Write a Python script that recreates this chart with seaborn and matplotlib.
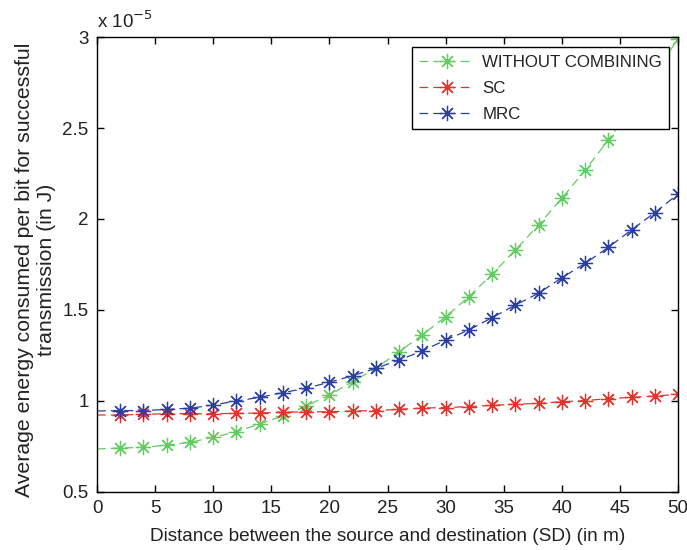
import matplotlib
matplotlib.use("Agg")
import matplotlib.pyplot as plt
import seaborn as sns
import numpy as np
import pandas as pd

# Distance between source and destination (m)
distance = [0, 2, 4, 6, 8, 10, 12, 14, 16, 18, 20, 22, 24, 26, 28, 30,
            32, 34, 36, 38, 40, 42, 44, 46, 48, 50]

# Average energy per bit (x 1e-5 J)
without_combining = [0.736, 0.742, 0.745, 0.757, 0.773, 0.800, 0.831, 0.874,
                     0.918, 0.972, 1.033, 1.106, 1.180, 1.271, 1.363, 1.463,
                     1.573, 1.696, 1.830, 1.967, 2.114, 2.267, 2.434, 2.610,
                     2.800, 2.990]
sc = [0.923, 0.923, 0.927, 0.930, 0.930, 0.930, 0.932, 0.934, 0.938, 0.940,
      0.941, 0.945, 0.947, 0.954, 0.961, 0.964, 0.969, 0.976, 0.982, 0.987,
      0.996, 1.002, 1.013, 1.020, 1.027, 1.037]
mrc = [0.945, 0.947, 0.947, 0.954, 0.960, 0.978, 1.000, 1.020, 1.046, 1.070,
       1.103, 1.139, 1.180, 1.225, 1.275, 1.335, 1.390, 1.458, 1.527, 1.592,
       1.677, 1.756, 1.844, 1.940, 2.035, 2.137]

series_names = ["WITHOUT COMBINING", "SC", "MRC"]
series_colors = ["#62cc62", "#e2342c", "#2b3fa3"]

df = pd.DataFrame({
    "distance": distance * 3,
    "energy": without_combining + sc + mrc,
    "scheme": np.repeat(series_names, len(distance)),
})

sns.set_theme(style="white")
plt.rcParams["font.family"] = ["Liberation Sans", "DejaVu Sans"]

fig = plt.figure(figsize=(6.87, 5.5), dpi=100)
ax = fig.add_axes([0.1412, 0.1055, 0.8457, 0.8272])

asterisk = (8, 2, 0)
for name, color in zip(series_names, series_colors):
    sub = df[df["scheme"] == name]
    sns.lineplot(data=sub, x="distance", y="energy", ax=ax, color=color,
                 linestyle=(0, (7, 4)), linewidth=0.9, marker=asterisk,
                 markersize=11, markeredgewidth=0.9, markeredgecolor=color,
                 markevery=list(range(1, len(distance))), label=name,
                 estimator=None, sort=True)

ax.set_xlim(0, 50)
ax.set_ylim(0.5, 3.0)
ax.set_xticks(np.arange(0, 51, 5))
ax.set_yticks([0.5, 1, 1.5, 2, 2.5, 3])
ax.set_yticklabels(["0.5", "1", "1.5", "2", "2.5", "3"])

ax.tick_params(axis="both", which="both", direction="in", length=5,
               width=1, colors="black", labelsize=13.5, top=True, right=True,
               bottom=True, left=True, pad=6, labelcolor="#222222")
for sp in ax.spines.values():
    sp.set_visible(True)
    sp.set_color("black")
    sp.set_linewidth(1.0)

ax.set_xlabel("Distance between the source and destination (SD) (in m)",
              fontsize=13.7, color="#222222", labelpad=8)
ax.set_ylabel("Average energy consumed per bit for successful\ntransmission (in J)",
              fontsize=15.3, color="#222222")
ax.yaxis.set_label_coords(-0.071, 0.488)

ax.text(0.0, 1.012, r"x 10$^{-5}$", transform=ax.transAxes, fontsize=13.5,
        ha="left", va="bottom", color="#222222")

leg = ax.legend(loc="upper right", bbox_to_anchor=(0.9845, 0.977),
                fontsize=12.2, frameon=True, fancybox=False, framealpha=1,
                edgecolor="black", borderpad=0.42, labelspacing=0.65,
                handlelength=3.2, handletextpad=0.5, borderaxespad=0.0)
leg.get_frame().set_linewidth(1.0)
for t in leg.get_texts():
    t.set_color("#222222")

fig.savefig("out.png", dpi=100, facecolor="white")
